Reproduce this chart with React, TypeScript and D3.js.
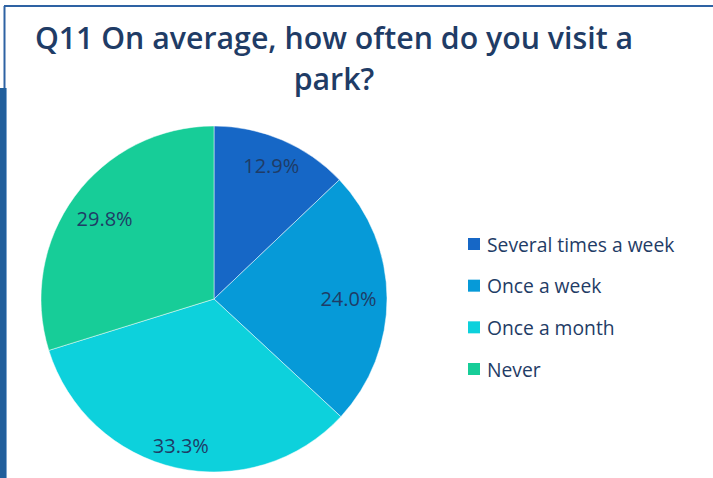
import React from "react";
import * as d3 from "d3";

const categories = ["Several times a week", "Once a week", "Once a month", "Never"];
const values = [12.9, 24.0, 33.3, 29.8];
const colors = ["#1667c6", "#069ad8", "#0dd1dc", "#17cd98"];
const titleLines = ["Q11 On average, how often do you visit a", "park?"];

const W = 713;
const H = 478;
const cx = 214;
const cy = 299;
const R = 173;
const textColor = "#1f3c66";
const font = "'Open Sans', 'Noto Sans', sans-serif";

export default function App() {
  const pie = d3.pie<number>().sort(null).value((d) => d)(values);
  const arc = d3.arc<d3.PieArcDatum<number>>().innerRadius(0).outerRadius(R);
  const legendY = d3.scaleLinear().domain([0, 3]).range([244, 369]);

  const labelW = 57;
  const labelH = 14;
  const pad = 10;

  return (
    <svg
      width={W}
      height={H}
      style={{ position: "fixed", left: 0, top: 0, background: "#fff" }}
      fontFamily={font}
    >
      <rect x={0} y={0} width={W} height={H} fill="#fff" />
      {/* frame */}
      <line x1={4} y1={6} x2={W} y2={6} stroke="#2e62a3" strokeWidth={2} />
      <line x1={4.5} y1={6} x2={4.5} y2={88} stroke="#2e62a3" strokeWidth={2} />
      <rect x={0} y={88} width={6} height={H - 88} fill="#215f9c" />
      <line x1={6.5} y1={88} x2={6.5} y2={H} stroke="#7fa6cf" strokeWidth={1} />

      {/* title */}
      {titleLines.map((t, i) => (
        <text
          key={i}
          x={334}
          y={49 + i * 41}
          textAnchor="middle"
          fontSize={30.3}
          fontWeight={600}
          fill={textColor}
        >
          {t}
        </text>
      ))}

      {/* pie */}
      <g transform={`translate(${cx},${cy})`}>
        {pie.map((p, i) => (
          <path key={i} d={arc(p) || ""} fill={colors[i]} stroke="#ffffff" strokeOpacity={0.6} strokeWidth={0.8} />
        ))}
        {pie.map((p, i) => {
          const a = (p.startAngle + p.endAngle) / 2;
          const s = Math.sin(a);
          const c = -Math.cos(a);
          const d = R - pad - Math.abs(s) * labelW / 2 - Math.abs(c) * labelH / 2;
          return (
            <text
              key={i}
              x={s * d}
              y={c * d}
              textAnchor="middle"
              dominantBaseline="central"
              fontSize={20}
              fontWeight={500}
              fill={textColor}
            >
              {values[i].toFixed(1)}%
            </text>
          );
        })}
      </g>

      {/* legend */}
      {categories.map((c, i) => (
        <g key={c} transform={`translate(468,${legendY(i)})`}>
          <rect x={0} y={-6} width={12} height={12} fill={colors[i]} />
          <text x={19} y={0} dominantBaseline="central" fontSize={19.3} fontWeight={500} fill={textColor}>
            {c}
          </text>
        </g>
      ))}
    </svg>
  );
}
